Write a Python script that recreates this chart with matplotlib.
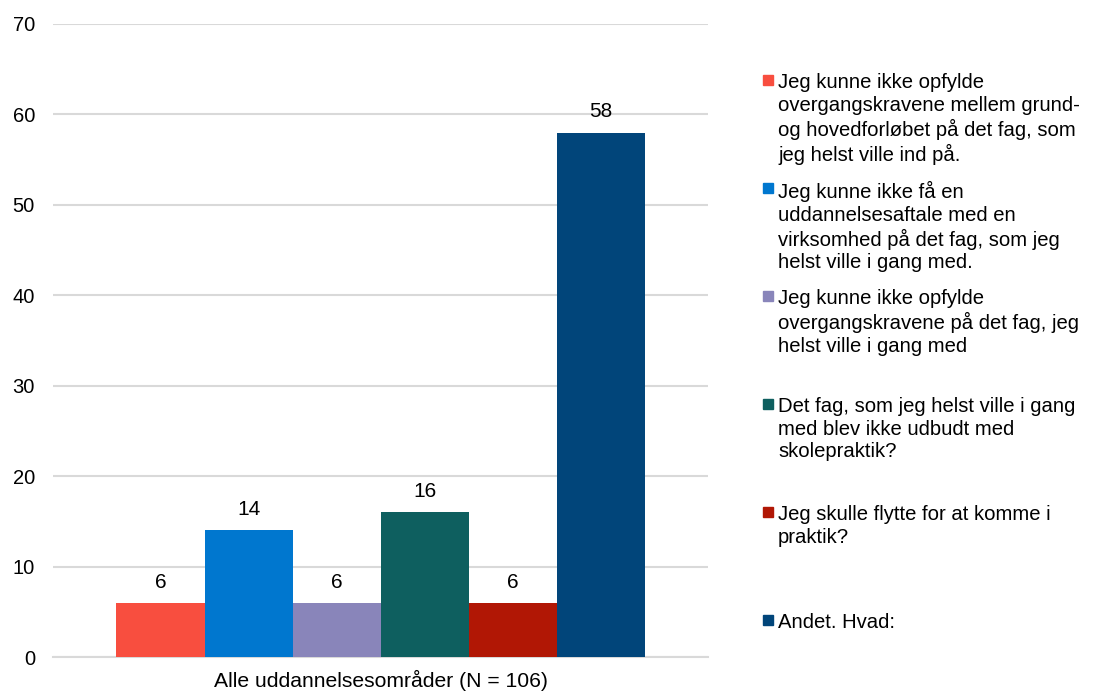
import matplotlib.pyplot as plt
from matplotlib.patches import Rectangle

plt.rcParams['font.family'] = ['Liberation Sans', 'DejaVu Sans']

category = "Alle uddannelsesområder (N = 106)"
series = [
    "Jeg kunne ikke opfylde\novergangskravene mellem grund-\nog hovedforløbet på det fag, som\njeg helst ville ind på.",
    "Jeg kunne ikke få en\nuddannelsesaftale med en\nvirksomhed på det fag, som jeg\nhelst ville i gang med.",
    "Jeg kunne ikke opfylde\novergangskravene på det fag, jeg\nhelst ville i gang med",
    "Det fag, som jeg helst ville i gang\nmed blev ikke udbudt med\nskolepraktik?",
    "Jeg skulle flytte for at komme i\npraktik?",
    "Andet. Hvad:",
]
values = [6, 14, 6, 16, 6, 58]
colors = ["#F84E3F", "#0077CF", "#8985BA", "#0E5F5F", "#B11705", "#01457A"]

fig = plt.figure(figsize=(10.98, 6.93), dpi=100)
ax = fig.add_axes([0.0483, 0.0519, 0.5967, 0.9135])

bar_w = 0.1344
n = len(values)
for i, (v, c) in enumerate(zip(values, colors)):
    x = (i - (n - 1) / 2) * bar_w
    ax.bar(x, v, width=bar_w, color=c, zorder=3)
    ax.annotate(str(v), (x, v), xytext=(0, 8), textcoords="offset points",
                ha="center", va="bottom", fontsize=15, color="#000000")

ax.set_xlim(-0.5, 0.5)
ax.set_ylim(0, 70)
ax.set_yticks(range(0, 71, 10))
ax.set_xticks([0])
ax.set_xticklabels([category])
ax.tick_params(axis="both", length=0, colors="#000000")
ax.tick_params(axis="y", pad=13, labelsize=14.5)
ax.tick_params(axis="x", pad=9, labelsize=15.2)
ax.grid(axis="y", color="#D9D9D9", linewidth=1.5, zorder=0)
for s in ["top", "right", "left"]:
    ax.spines[s].set_visible(False)
ax.spines["bottom"].set_color("#D9D9D9")
ax.spines["bottom"].set_linewidth(1.5)

# legend, one slot per series, text top-aligned as in the original
W, H = 1098, 693
top0 = 73
slot = 108
for i, (lab, c) in enumerate(zip(series, colors)):
    y = top0 + i * slot
    fig.patches.append(Rectangle((763 / W, 1 - (y + 12) / H), 10 / W, 10 / H,
                                 transform=fig.transFigure, color=c))
    fig.text(778 / W, 1 - y / H, lab, fontsize=14.6, va="top", ha="left",
             linespacing=1.24, color="#000000")

fig.savefig("out.png", dpi=100)
